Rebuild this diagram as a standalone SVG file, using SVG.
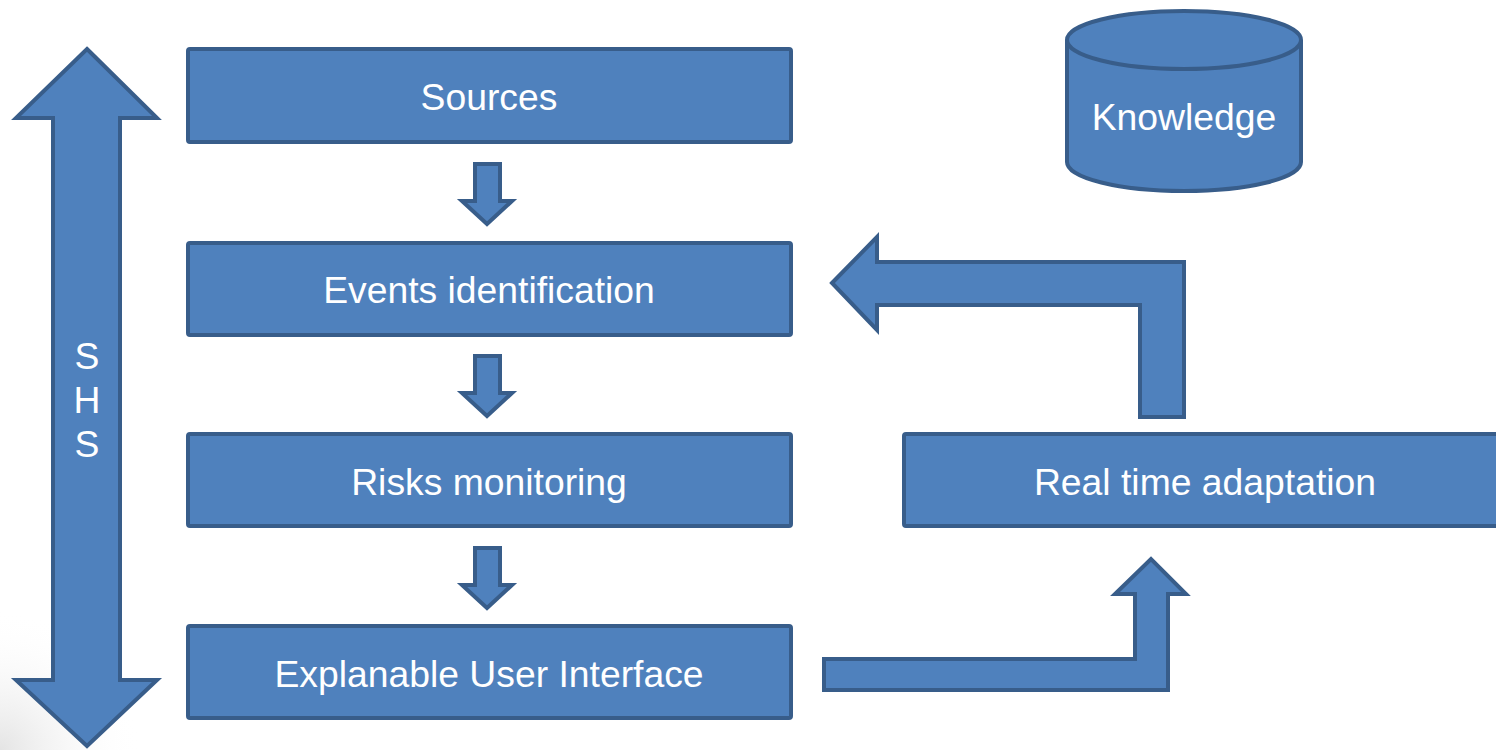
<svg xmlns="http://www.w3.org/2000/svg" width="1496" height="750" viewBox="0 0 1496 750">
  <defs>
    <radialGradient id="cornerShade" cx="0" cy="750" r="140" gradientUnits="userSpaceOnUse">
      <stop offset="0" stop-color="#e4e4e4"/>
      <stop offset="1" stop-color="#ffffff" stop-opacity="0"/>
    </radialGradient>
  </defs>
  <style>
    .shape { fill: #4F81BD; stroke: #385D8A; stroke-width: 4; stroke-linejoin: miter; }
    .label { fill: #ffffff; font-family: "Liberation Sans", Arial, sans-serif; font-size: 37.3px; text-anchor: middle; }
  </style>
  <rect width="1496" height="750" fill="#ffffff"/>
  <rect x="0" y="560" width="160" height="190" fill="url(#cornerShade)"/>

  <!-- SHS span arrow -->
  <g id="shs">
    <path class="shape" d="M87,49 L157,118 L120,118 L120,680 L157,680 L87,746 L16,680 L53,680 L53,118 L16,118 Z"/>
    <text class="label" x="87" y="369">S</text>
    <text class="label" x="87" y="413">H</text>
    <text class="label" x="87" y="457">S</text>
  </g>

  <!-- process steps -->
  <g id="sources">
    <rect class="shape" x="188" y="49" width="603" height="93" rx="2"/>
    <text class="label" x="489" y="110">Sources</text>
  </g>
  <g id="events">
    <rect class="shape" x="188" y="243" width="603" height="92" rx="2"/>
    <text class="label" x="489" y="303">Events identification</text>
  </g>
  <g id="risks">
    <rect class="shape" x="188" y="434" width="603" height="92" rx="2"/>
    <text class="label" x="489" y="495">Risks monitoring</text>
  </g>
  <g id="xui">
    <rect class="shape" x="188" y="626" width="603" height="92" rx="2"/>
    <text class="label" x="489" y="687">Explanable User Interface</text>
  </g>
  <g id="adaptation">
    <rect class="shape" x="904" y="434" width="620" height="92" rx="2"/>
    <text class="label" x="1205" y="495">Real time adaptation</text>
  </g>
  <g id="knowledge">
    <path class="shape" d="M1067,40 L1067,162 A117,29 0 0 0 1301,162 L1301,40"/>
    <ellipse class="shape" cx="1184" cy="40" rx="117" ry="29"/>
    <text class="label" x="1184" y="130">Knowledge</text>
  </g>

  <!-- connectors -->
  <g id="connectors">
    <path class="shape" d="M475,164 L500,164 L500,201 L512,201 L487,224 L462,201 L475,201 Z"/>
    <path class="shape" d="M475,356 L500,356 L500,393 L512,393 L487,416 L462,393 L475,393 Z"/>
    <path class="shape" d="M475,548 L500,548 L500,585 L512,585 L487,608 L462,585 L475,585 Z"/>
    <path class="shape" d="M832,283 L877,237 L877,262 L1184,262 L1184,417 L1140,417 L1140,305 L877,305 L877,330 Z"/>
    <path class="shape" d="M824,659 L1135,659 L1135,594 L1115,594 L1151,559 L1186,594 L1168,594 L1168,690 L824,690 Z"/>
  </g>
</svg>
